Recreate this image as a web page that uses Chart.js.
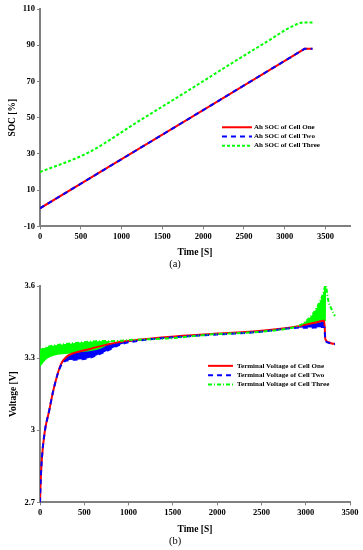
<!DOCTYPE html>
<html><head><meta charset="utf-8">
<script src="https://cdn.jsdelivr.net/npm/chart.js@4.4.1/dist/chart.umd.min.js"></script>
<style>
html,body{margin:0;padding:0;background:#fff;width:363px;height:550px;overflow:hidden}
canvas{position:absolute;left:0}
#ca{top:0}
#cb{top:272px}
</style></head><body>
<canvas id="ca" width="363" height="272"></canvas>
<canvas id="cb" width="363" height="278"></canvas>
<script>
// ---------- (a) SOC ----------
const socTimeOneTwo = [0, 1000, 2000, 3000, 3243, 3340];
const socCellOne    = [0, 27.1, 54.2, 81.4, 88, 88];
const socCellTwo    = [0, 27.1, 54.2, 81.4, 88, 88];
const socTimeThree  = [0, 590, 1200, 1818, 2334, 2743, 3153, 3243, 3340];
const socCellThree  = [20, 30.7, 47.8, 65, 79.6, 90.9, 101.7, 102.6, 102.6];
const socXTicks = [0, 500, 1000, 1500, 2000, 2500, 3000, 3500];
const socYTicks = [-10, 10, 30, 50, 70, 90, 110];
const socLabels = ['Ah SOC of Cell One', 'Ah SOC of Cell Two', 'Ah SOC of Cell Three'];

// ---------- (b) Terminal voltage ----------
const vTimeOneTwo = [0, 5, 19, 56, 100, 147, 200, 241, 297, 340, 542, 730, 918, 1106, 1445, 2000, 2500, 2900, 3100, 3210, 3222, 3260, 3292, 3330];
const vCellOne    = [2.70, 2.76, 2.87, 3.00, 3.075, 3.16, 3.235, 3.278, 3.305, 3.315, 3.336, 3.354, 3.368, 3.376, 3.388, 3.402, 3.414, 3.432, 3.447, 3.455, 3.378, 3.366, 3.361, 3.36];
const vCellTwoLow = [2.70, 2.76, 2.87, 3.00, 3.075, 3.16, 3.235, 3.272, 3.29, 3.292, 3.30, 3.326, 3.358, 3.372, 3.385, 3.398, 3.41, 3.426, 3.427, 3.43, 3.374, 3.364, 3.36, 3.358];
const vTimeThree  = [0, 90, 354, 730, 786, 993, 1445, 1953, 2500, 2900, 2972, 3085, 3160, 3198, 3228, 3230, 3254, 3290, 3330];
const vCellThree  = [3.333, 3.347, 3.361, 3.371, 3.37, 3.375, 3.382, 3.399, 3.41, 3.432, 3.445, 3.486, 3.535, 3.57, 3.604, 3.60, 3.542, 3.505, 3.475];
const vCellThreeLow = [3.264, 3.299, 3.320, 3.347, 3.365, 3.375, 3.382, 3.399, 3.41, 3.432, 3.437, 3.443, 3.448, 3.451, 3.455, 3.60, 3.542, 3.505, 3.475];
const vXTicks = [0, 500, 1000, 1500, 2000, 2500, 3000, 3500];
const vYTicks = [2.7, 3.0, 3.3, 3.6];
const vLabels = ['Terminal Voltage of Cell One', 'Terminal Voltage of Cell Two', 'Terminal Voltage of Cell Three'];

const RED = '#ff0000', BLUE = '#0000ff', GREEN = '#00ff00';
const SERIF = '"Liberation Serif", "Times New Roman", serif';
Chart.defaults.font.family = SERIF;
Chart.defaults.color = '#000';

const pts = (xs, ys) => xs.map((x, i) => ({x, y: ys[i]}));

const inLegend = {
  id: 'inLegend',
  afterDatasetsDraw(chart, args, o) {
    const {ctx, chartArea: a} = chart;
    const x0 = a.left + o.x * (a.right - a.left);
    let y = a.top + o.y * (a.bottom - a.top);
    ctx.save();
    ctx.font = 'bold ' + o.size + 'px ' + SERIF;
    ctx.textBaseline = 'middle';
    chart.data.datasets.forEach(ds => {
      if (ds.noLegend) return;
      ctx.strokeStyle = ds.borderColor;
      ctx.lineWidth = 2;
      ctx.setLineDash(ds.borderDash || []);
      ctx.beginPath(); ctx.moveTo(x0, y); ctx.lineTo(x0 + o.len, y); ctx.stroke();
      ctx.setLineDash([]);
      ctx.fillStyle = '#000';
      ctx.fillText(ds.label, x0 + o.len + o.gap, y);
      y += o.row;
    });
    ctx.restore();
  }
};

function axis(min, max, ticksArr, title, isX, size, titlePad, fmt) {
  return {
    type: 'linear', min, max,
    afterBuildTicks: s => { s.ticks = ticksArr.map(v => ({value: v})); },
    afterFit: s => { if (isX) s.height = size; else s.width = size; },
    border: {display: true, color: '#808080', width: 2},
    grid: {display: true, drawOnChartArea: false, drawTicks: true, tickLength: 3, color: '#808080', lineWidth: 1},
    ticks: {font: {size: 8.5, weight: 'bold'}, color: '#000', padding: 2, maxRotation: 0, autoSkip: false,
            callback: fmt || (v => String(v))},
    title: {display: true, text: title, font: {size: 9.5, weight: 'bold'}, color: '#000', padding: {top: titlePad, bottom: 0}}
  };
}

function baseOptions(xs, ys, sub, pad, legendPos) {
  return {
    responsive: false, animation: false, devicePixelRatio: 1,
    layout: {padding: pad},
    scales: {x: xs, y: ys},
    elements: {point: {radius: 0}},
    plugins: {
      legend: {display: false}, tooltip: {enabled: false},
      filler: {drawTime: 'beforeDatasetsDraw'},
      subtitle: {display: true, text: sub, position: 'bottom', font: {size: 10.5, weight: 'normal'}, color: '#000', padding: {top: 0, bottom: 0}},
      inLegend: legendPos
    }
  };
}

new Chart(document.getElementById('ca'), {
  type: 'line',
  data: {datasets: [
    {label: socLabels[0], data: pts(socTimeOneTwo, socCellOne), borderColor: RED, borderWidth: 2, fill: false, order: 3},
    {label: socLabels[1], data: pts(socTimeOneTwo, socCellTwo), borderColor: BLUE, borderWidth: 2, borderDash: [5, 4], fill: false, order: 2},
    {label: socLabels[2], data: pts(socTimeThree, socCellThree), borderColor: GREEN, borderWidth: 2, borderDash: [3, 2], fill: false, order: 1, cubicInterpolationMode: 'monotone'}
  ]},
  options: baseOptions(
    axis(0, 3800, socXTicks, 'Time [S]', true, 32, 0),
    axis(-10, 110, socYTicks, 'SOC [%]', false, 40, 7),
    '(a)', {left: 0, right: 13, top: 9, bottom: 1},
    {x: 0.587, y: 0.544, len: 30, gap: 2, row: 9.2, size: 7}
  ),
  plugins: [inLegend]
});

new Chart(document.getElementById('cb'), {
  type: 'line',
  data: {datasets: [
    {label: vLabels[0], data: pts(vTimeOneTwo, vCellOne), borderColor: RED, borderWidth: 2, fill: false, order: 4, cubicInterpolationMode: 'monotone'},
    {label: vLabels[1], data: pts(vTimeOneTwo, vCellTwoLow), borderColor: BLUE, borderWidth: 2, borderDash: [5, 4], fill: '-1', backgroundColor: BLUE, order: 3, cubicInterpolationMode: 'monotone'},
    {label: vLabels[2], data: pts(vTimeThree, vCellThree), borderColor: GREEN, borderWidth: 2, borderDash: [4, 2, 1, 2], fill: false, order: 1, cubicInterpolationMode: 'monotone'},
    {label: 'band', noLegend: true, data: pts(vTimeThree, vCellThreeLow), borderColor: GREEN, borderWidth: 0, fill: '-1', backgroundColor: GREEN, order: 2, cubicInterpolationMode: 'monotone'}
  ]},
  options: baseOptions(
    axis(0, 3500, vXTicks, 'Time [S]', true, 33, 0),
    axis(2.7, 3.6, vYTicks, 'Voltage [V]', false, 40, 8, v => String(+v.toFixed(1))),
    '(b)', {left: 0, right: 13, top: 14, bottom: 2},
    {x: 0.542, y: 0.369, len: 25, gap: 4, row: 9.3, size: 7}
  ),
  plugins: [inLegend]
});
</script>
</body></html>
